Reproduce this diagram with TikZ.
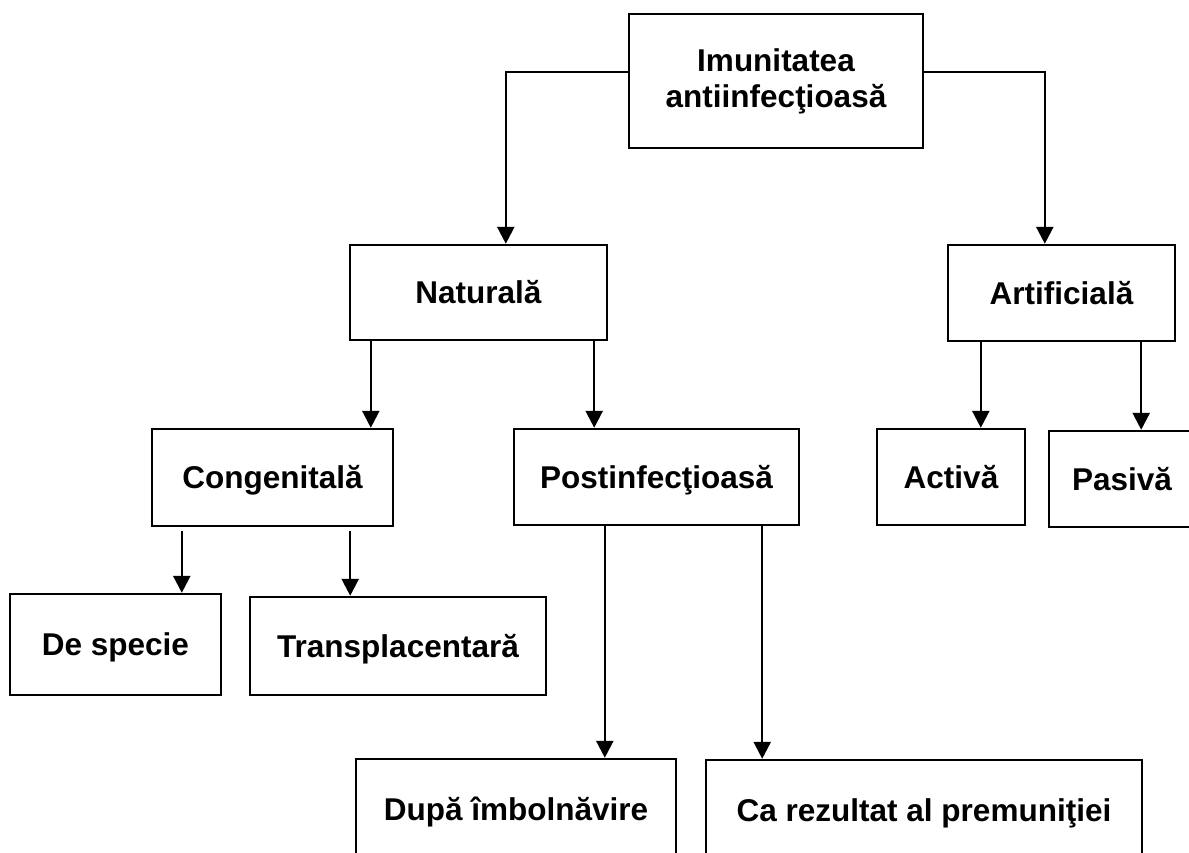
\documentclass[tikz,border=0pt]{standalone}
\usepackage{fontspec}
\setmainfont{Liberation Sans}
\usetikzlibrary{arrows.meta}
\tikzset{
  box/.style={draw, line width=2.4pt, inner sep=0pt, align=center,
    font=\fontsize{31.5pt}{36pt}\selectfont\bfseries},
  oneline/.style={text height=22.6pt, text depth=0pt},
  arr/.style={line width=2.4pt, -{Triangle[width=17pt,length=17pt]}}
}
\begin{document}
\begin{tikzpicture}[x=1pt,y=-1pt]
\useasboundingbox (0,0) rectangle (1189,852);
\clip (0,0) rectangle (1189,852);
\node[box, minimum width=294pt, minimum height=134pt] (imun) at (776,81) {Imunitatea\\antiinfecţioasă};
\node[box, oneline, minimum width=257pt, minimum height=95pt] (nat) at (478.5,292.5) {Naturală};
\node[box, oneline, minimum width=227pt, minimum height=96pt] (art) at (1061.5,293) {Artificială};
\node[box, oneline, minimum width=241pt, minimum height=97pt] (cong) at (272.5,477.5) {Congenitală};
\node[box, oneline, minimum width=285pt, minimum height=96pt] (post) at (656.5,477) {Postinfecţioasă};
\node[box, oneline, minimum width=148pt, minimum height=96pt] (act) at (951,477) {Activă};
\node[box, oneline, minimum width=146pt, minimum height=96pt] (pas) at (1122,479) {Pasivă};
\node[box, oneline, minimum width=211pt, minimum height=101pt] (spec) at (115.5,644.5) {De specie};
\node[box, oneline, minimum width=296pt, minimum height=98pt] (trans) at (398,646) {Transplacentară};
\node[box, oneline, minimum width=320pt, minimum height=100pt] (dupa) at (516,809) {După îmbolnăvire};
\node[box, oneline, minimum width=436pt, minimum height=100pt] (ca) at (924,810) {Ca rezultat al premuniţiei};
% branches from the top box
\draw[arr] ([yshift=9pt]imun.west) -| ([xshift=157pt]nat.north west);
\draw[arr] ([yshift=9pt]imun.east) -| ([xshift=98pt]art.north west);
% lower levels
\coordinate (n1) at ([xshift=22pt]nat.south west);
\coordinate (n2) at ([xshift=-14pt]nat.south east);
\coordinate (a1) at ([xshift=34pt]art.south west);
\coordinate (a2) at ([xshift=-35pt]art.south east);
\coordinate (c1) at ([xshift=31pt,yshift=-4pt]cong.south west);
\coordinate (c2) at ([xshift=-44pt,yshift=-4pt]cong.south east);
\coordinate (p1) at ([xshift=92pt]post.south west);
\coordinate (p2) at ([xshift=-38pt]post.south east);
\foreach \s/\t in {n1/cong,n2/post,a1/act,a2/pas,c1/spec,c2/trans,p1/dupa,p2/ca}
  \draw[arr] (\s) -- (\s |- \t.north);
\end{tikzpicture}
\end{document}
